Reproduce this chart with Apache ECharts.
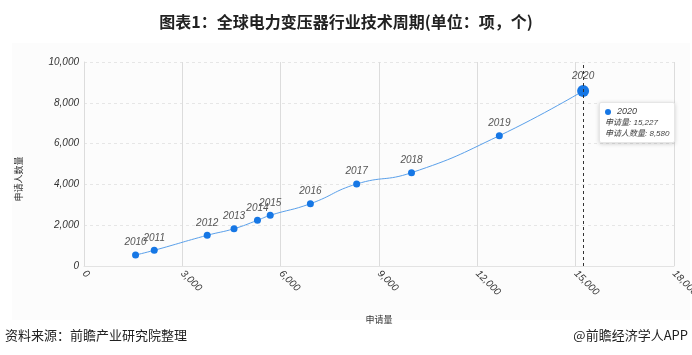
<!DOCTYPE html>
<html>
<head>
<meta charset="utf-8">
<script src="https://cdn.jsdelivr.net/npm/echarts@6/dist/echarts.min.js"></script>
<style>
html,body{margin:0;padding:0;background:#fff;}
#wrap{position:relative;width:692px;height:355px;}
#chart{position:absolute;left:0;top:0;width:692px;height:355px;}
.title{position:absolute;left:0;top:9px;width:692px;text-align:center;font:bold 16px "Noto Sans CJK SC","Liberation Sans",sans-serif;color:#222;}
.src{position:absolute;left:5px;top:325px;font:13px "Noto Sans CJK SC",sans-serif;color:#222;}
.app{position:absolute;right:4px;top:325px;font:13px "Noto Sans CJK SC",sans-serif;color:#222;}
</style>
</head>
<body>
<div id="wrap">
<div id="chart"></div>
<div class="title">图表1：全球电力变压器行业技术周期(单位：项，个)</div>
<div class="src">资料来源：前瞻产业研究院整理</div>
<div class="app">@前瞻经济学人APP</div>
</div>
<script>
const years = ['2010','2011','2012','2013','2014','2015','2016','2017','2018','2019','2020'];
const applications = [1573, 2143, 3759, 4577, 5292, 5681, 6907, 8318, 9992, 12671, 15227];
const applicants = [540, 770, 1505, 1828, 2240, 2485, 3054, 4020, 4574, 6387, 8580];
const xAxisName = '申请量';
const yAxisName = '申请人数量';
const xMax = 18000, xStep = 3000;
const yMax = 10000, yStep = 2000;

const seriesData = years.map((y, i) => ({ name: y, value: [applications[i], applicants[i]] }));
const last = years.length - 1;
const fmt = n => n.toLocaleString('en-US');
const font = '"Liberation Sans","Noto Sans CJK SC",sans-serif';

const chart = echarts.init(document.getElementById('chart'), null, { renderer: 'canvas' });
chart.setOption({
  animation: false,
  backgroundColor: 'transparent',
  graphic: [{
    type: 'rect', left: 12, top: 43, z: -10,
    shape: { width: 678, height: 277 },
    style: { fill: '#fcfcfc' }
  }],
  grid: { left: 84, right: 18, top: 62, bottom: 89, containLabel: false, outerBoundsMode: 'none' },
  tooltip: {
    trigger: 'item',
    alwaysShowContent: true,
    backgroundColor: '#fff',
    borderColor: '#e6e6e6',
    borderWidth: 1,
    padding: [3, 5],
    extraCssText: 'box-shadow:0 1px 4px rgba(0,0,0,0.18);border-radius:2px;',
    textStyle: { fontSize: 8, color: '#444', fontFamily: font },
    position: function (point) { return [point[0] + 16, point[1] + 11]; },
    formatter: function (p) {
      return '<div style="line-height:11px;font-style:italic;font-size:8px;color:#444">' +
        '<span style="display:inline-block;width:6px;height:6px;border-radius:50%;background:#1677e5;margin-right:6px;vertical-align:middle"></span>' +
        '<span style="font-size:9px">' + p.name + '</span><br>' +
        '申请量: ' + fmt(p.value[0]) + '<br>' +
        '申请人数量: ' + fmt(p.value[1]) + '</div>';
    }
  },
  xAxis: {
    type: 'value',
    min: 0, max: xMax, interval: xStep,
    name: xAxisName,
    nameLocation: 'middle',
    nameGap: 50,
    nameTextStyle: { fontSize: 9, color: '#333', fontFamily: font },
    axisLine: { show: true, lineStyle: { color: '#e3e3e3' } },
    axisTick: { show: false },
    axisLabel: {
      rotate: -45, fontSize: 10, fontStyle: 'italic', color: '#333', fontFamily: font, margin: 6,
      formatter: v => fmt(v)
    },
    splitLine: { show: true, lineStyle: { color: '#dcdcdc', width: 1 } }
  },
  yAxis: {
    type: 'value',
    min: 0, max: yMax, interval: yStep,
    name: yAxisName,
    nameLocation: 'middle',
    nameGap: 60,
    nameTextStyle: { fontSize: 9, color: '#333', fontFamily: font, padding: [0, 0, 0, -30] },
    axisLine: { show: true, lineStyle: { color: '#dcdcdc' } },
    axisTick: { show: false },
    axisLabel: {
      fontSize: 10, fontStyle: 'italic', color: '#333', fontFamily: font, margin: 5,
      formatter: v => fmt(v)
    },
    splitLine: { show: true, lineStyle: { color: '#e6e6e6', type: [3, 3] } }
  },
  series: [{
    type: 'line',
    data: seriesData,
    smooth: 0.5,
    symbol: 'circle',
    symbolSize: (v, p) => p.dataIndex === last ? 12 : 7,
    lineStyle: { color: '#5aa0ea', width: 1 },
    itemStyle: { color: '#1677e5' },
    label: {
      show: true, position: 'top', distance: 4,
      formatter: p => p.name,
      fontSize: 10, fontStyle: 'italic', color: '#555', fontFamily: font
    },
    emphasis: { disabled: true },
    markLine: {
      silent: true,
      symbol: 'none',
      label: { show: false },
      lineStyle: { color: '#333', type: [3, 3], width: 1 },
      data: [{ xAxis: applications[last] }]
    }
  }]
});
chart.dispatchAction({ type: 'showTip', seriesIndex: 0, dataIndex: last });
</script>
</body>
</html>
